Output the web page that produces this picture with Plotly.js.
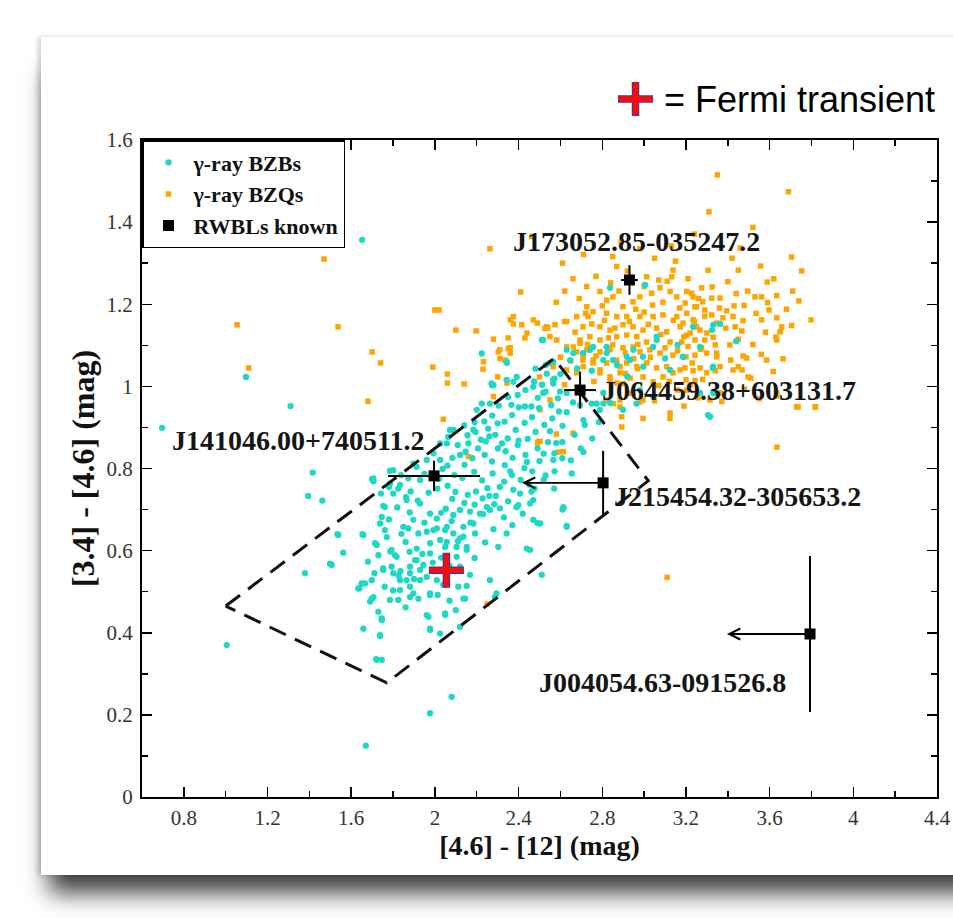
<!DOCTYPE html>
<html>
<head>
<meta charset="utf-8">
<script src="https://cdn.plot.ly/plotly-3.0.1.min.js"></script>
<style>
  html, body { margin:0; padding:0; background:#ffffff; width:953px; height:918px; overflow:hidden; }
  #card { position:absolute; left:41px; top:37px; width:1000px; height:838px; background:#ffffff;
          box-shadow: 0 26px 22px -8px rgba(0,0,0,0.75), -3px 0 5px rgba(0,0,0,0.18); }
  #chart { position:absolute; left:0; top:0; width:953px; height:918px; }
</style>
</head>
<body>
<div id="card"></div>
<div id="chart"></div>
<script>
// ---------------- data ----------------
// gamma-ray BZBs (cyan)
const bzbX = [1.652,1.097,0.696,1.31,1.005,1.67,1.977,2.08,1.416,1.394,1.462,3.305,3.33,
 1.70,1.785,2.273,2.517,2.345,2.61,2.63,2.71,2.49,2.39,
 3.363,3.325,3.44,3.185,3.328,3.315,
 2.837,3.004,2.565,2.646,2.708,2.756,2.821,2.851,2.933,3.043,3.06,2.995,3.234,3.267,3.33,2.343,2.391,2.47,2.55,2.517,2.565,2.63,2.805,2.837,2.789,2.899,3.267,3.33,
 1.379,1.499,1.534,1.562,1.654,1.658,1.706,1.714,1.746,1.738,1.746,1.698,1.639,1.666,1.711,1.753,1.793,1.817,1.719,1.785,1.825,1.833,1.881,1.897,1.921,1.849,1.897,1.929,1.865,1.801,1.833,1.873,1.801,1.913,1.761,1.746,1.929,1.977,2.009,1.993,2.025,2.049,1.977,1.913,1.929,1.961,2.009,1.881,1.833,1.977,2.013,2.049,1.969,1.977,2.025,2.12,2.112,2.144,2.168,2.12,2.104,2.152,2.136,2.088,2.057,2.136,2.192,2.184,2.088,2.12,2.168,2.216,2.263,2.295,2.343,2.303,2.248,2.311,2.391,2.455,2.47,2.503,2.511,2.614,2.63,2.47,2.462,2.407,2.375,
 2.012,2.061,2.098,2.157,2.196,2.251,2.291,2.083,2.141,2.228,2.284,2.052,2.037,2.093,2.131,2.188,2.226,2.276,2.331,2.369,2.084,2.142,2.179,2.238,2.273,2.334,2.371,2.428,2.465,2.109,2.147,2.206,2.243,2.301,2.338,2.396,2.433,2.491,2.156,2.194,2.255,2.289,2.348,2.386,2.444,2.481,2.541,2.236,2.274,2.333,2.369,2.429,2.464,2.523,2.561,2.305,2.366,2.401,2.461,2.498,2.556,2.593,2.396,2.433,2.492,2.529,2.588,2.474,2.512,2.571,2.481,2.694,2.716,2.697,2.571,2.609,2.668,2.783,2.752,2.476,2.529,2.572,2.609,2.28,2.375,2.263,2.20,2.224,2.088,2.064,2.025,1.993,2.025,1.961,1.897,1.838,1.781,1.742,
 1.706,1.785,1.825,1.884,1.918,1.862,1.753,1.738,1.761,1.658,1.538,1.507,1.722,1.787,1.809,1.879,1.913,1.873,1.921,1.961,2.009,2.049,1.977,2.057,2.12,2.104,2.152,1.753,1.793,1.835,1.881,1.905,1.945,1.929,1.865,1.827,1.801,1.698,1.65,1.634,1.706,1.69,1.881,1.977,2.152,2.136,2.439,1.961,2.049,1.73,1.746,1.738,1.977,1.722,2.287,
 2.224,2.343,2.271,2.072,2.057,2.184,2.773,2.71,2.654,2.566,2.399,2.455,2.614,2.263,
 2.511,2.63,2.662,2.741,2.805,2.821,2.917,2.949,2.996,3.06,3.188,3.124,2.535,2.566,2.598,2.749,2.805,2.964,2.98,3.044,
 1.94,1.99,2.03,2.07,1.86,1.84,1.95,2.03,2.08,2.11,2.17,2.19,2.23,2.26,2.31,2.35,2.36,2.41,2.44,2.50,2.52,2.55,2.58,2.61,2.63,2.66,2.40,2.32,2.26,2.22,2.16,2.12,2.06,2.02,1.97,1.95,1.88,1.82,1.78,1.77,1.73,1.68,1.76,1.80,1.86,1.90,2.04,2.07,2.10,2.19,2.24,2.28,2.33,2.37,2.42,2.45,2.52,2.57,2.65,2.43,2.35,2.30,2.19,2.14,2.53,2.60,2.68,2.75,2.87,2.92,3.10,3.16];
const bzbY = [1.357,1.023,0.899,0.952,0.37,0.125,0.204,0.244,0.79,0.733,0.722,0.93,1.15,
 0.774,0.794,1.003,1.113,1.057,0.70,0.66,0.84,0.667,0.706,
 1.152,1.137,1.11,1.072,1.045,0.926,
 1.24,1.247,1.06,1.064,1.081,1.096,1.081,1.064,1.064,1.096,1.121,1.072,1.145,1.096,1.048,1.016,1.023,0.999,1.057,0.984,1.016,0.984,0.984,0.96,0.943,0.943,0.984,0.984,
 0.545,0.568,0.64,0.595,0.64,0.41,0.776,0.618,0.334,0.392,0.435,0.483,0.508,0.52,0.545,0.553,0.602,0.585,0.336,0.48,0.48,0.528,0.545,0.496,0.483,0.658,0.675,0.715,0.723,0.739,0.76,0.776,0.796,0.804,0.706,0.682,0.772,0.69,0.678,0.65,0.626,0.609,0.593,0.577,0.553,0.536,0.528,0.512,0.504,0.496,0.492,0.447,0.439,0.41,0.398,0.414,0.512,0.483,0.541,0.561,0.585,0.609,0.634,0.642,0.658,0.658,0.642,0.666,0.687,0.699,0.695,0.69,0.528,0.496,0.642,0.609,0.706,0.703,0.706,0.602,0.675,0.666,0.541,0.706,0.658,0.723,0.744,0.739,0.748,
 0.751,0.758,0.743,0.736,0.744,0.752,0.733,0.726,0.716,0.727,0.713,0.702,0.799,0.784,0.777,0.792,0.771,0.788,0.768,0.784,0.826,0.809,0.825,0.833,0.817,0.808,0.826,0.801,0.793,0.857,0.841,0.849,0.866,0.849,0.842,0.857,0.833,0.849,0.881,0.889,0.897,0.882,0.873,0.894,0.872,0.889,0.864,0.915,0.929,0.914,0.93,0.911,0.925,0.906,0.922,0.953,0.955,0.949,0.951,0.947,0.954,0.939,0.979,0.991,0.972,0.987,0.971,1.012,1.004,1.019,1.043,0.954,0.906,0.849,0.837,0.864,0.882,0.913,0.873,0.751,0.783,0.793,0.825,1.003,1.011,0.958,0.943,0.958,0.894,0.877,0.861,0.837,0.821,0.821,0.812,0.784,0.755,0.739,
 0.769,0.763,0.751,0.744,0.722,0.73,0.709,0.666,0.65,0.638,0.638,0.565,0.614,0.598,0.589,0.597,0.605,0.654,0.642,0.646,0.654,0.65,0.618,0.621,0.63,0.609,0.602,0.557,0.561,0.55,0.561,0.577,0.565,0.528,0.528,0.539,0.545,0.528,0.52,0.508,0.487,0.476,0.487,0.492,0.514,0.483,0.605,0.443,0.443,0.451,0.431,0.394,0.407,0.334,0.487,
 1.08,1.06,1.007,0.894,0.861,0.894,0.958,0.918,0.788,0.821,0.711,0.715,0.703,0.699,
 1.113,1.089,1.081,1.089,1.064,1.096,1.072,1.089,1.048,1.113,1.072,1.04,1.031,1.007,0.987,0.958,0.958,0.958,0.991,0.975,
 0.592,0.571,0.583,0.563,0.621,0.641,0.668,0.692,0.672,0.623,0.668,0.712,0.689,0.733,0.755,0.72,0.793,0.772,0.816,0.818,0.836,0.891,0.862,0.904,0.937,0.961,0.868,0.861,0.878,0.87,0.861,0.833,0.807,0.775,0.741,0.787,0.693,0.705,0.676,0.633,0.589,0.573,0.512,0.503,0.462,0.531,0.517,0.478,0.455,0.582,0.62,0.652,0.681,0.662,0.69,0.761,0.772,0.751,0.82,0.951,0.974,0.91,0.913,0.905,1.052,1.03,1.044,1.038,1.052,1.024,1.068,1.101];

// gamma-ray BZQs (orange)
const bzqX = [1.47,1.054,1.537,1.11,1.70,1.74,2.0,2.02,1.68,1.99,2.06,2.06,2.14,2.10,2.197,2.263,2.41,2.61,2.28,2.35,2.36,2.375,2.43,2.31,2.36,2.30,2.345,2.23,2.49,2.54,2.574,2.04,2.50,2.59,2.66,2.49,2.58,3.11,2.25,3.635,3.817,
 3.35,3.69,3.31,3.52,3.46,3.705,3.753,3.306,3.45,3.557,3.588,3.495,3.325,3.53,3.562,3.634,3.74,3.59,3.597,3.535,3.562,3.634,3.798,3.705,3.658,3.65,3.63,3.473,3.478,3.43,3.395,3.425,3.435,3.467,3.45,3.664,3.617,3.473,3.414,3.45,3.468,3.425,3.51,3.736,3.82,3.634,3.34,3.234,3.347,3.371,3.363,3.204,3.234,3.275,3.28,3.323,3.363,3.243,3.29,3.323,3.204,3.234,3.186,3.25,3.347,3.377,3.30,3.204,3.243,3.29,3.21,3.275,3.34,3.243,3.195,3.243,3.204,3.258,
 2.463,2.85,2.869,3.012,3.138,3.132,3.07,2.726,2.789,2.821,2.851,2.899,2.947,2.98,3.036,3.076,3.124,3.156,3.227,3.196,3.25,2.726,2.756,2.678,2.732,2.821,2.869,2.917,2.98,3.043,3.09,3.156,2.63,2.535,2.708,2.789,2.837,2.899,2.947,2.995,3.06,3.108,3.172,3.22,3.267,2.694,2.741,2.789,2.869,2.917,2.965,3.012,3.124,3.18,2.63,2.678,2.726,2.789,2.837,2.899,2.947,2.98,3.028,3.076,3.138,3.20,3.30,3.347,2.708,2.756,2.821,2.869,2.917,2.965,3.012,3.06,3.108,3.172,3.267,2.565,2.63,2.678,2.789,2.837,2.885,2.933,2.995,3.043,3.09,3.138,3.20,3.30,3.363,3.49,3.585,3.634,3.497,3.634,3.729,2.947,2.885,2.995,3.124,3.315,2.335,2.36,2.375,2.415,2.47,2.44,
 2.503,2.55,2.28,2.16,2.495,2.614,2.311,2.232,2.351,2.303,2.853,2.893,2.893,
 2.526,2.55,2.662,2.709,2.709,2.757,2.789,2.885,2.837,2.90,2.933,2.821,2.885,2.694,2.582,
 2.503,2.995,2.98,3.124,
 2.58,2.62,2.66,2.69,2.77,2.80,2.84,2.88,2.92,2.96,3.00,3.04,3.09,3.11,3.17,3.21,3.26,3.15,3.05,2.98,2.71,2.62,2.67,2.75,2.81,2.86,2.93,2.97,3.02,3.08,3.14,3.19,3.24,3.29,2.60,2.65,2.73,2.77,2.85,2.91,2.95,3.03,3.10,3.16,3.23,3.27,2.87,2.91,3.07,3.12,3.16,3.22,2.97,2.76,2.68,2.62,2.72,2.83,3.00,3.33,3.39,3.41,3.52,3.56,3.58,3.68,3.71,3.62,3.40,3.44,3.36,3.13,3.24,2.89,3.42,3.05,3.19,3.48,3.55,3.28];
const bzqY = [1.31,1.15,1.145,1.045,1.084,1.057,1.186,1.186,0.964,1.047,1.03,1.008,1.006,1.137,1.135,1.335,1.23,1.30,1.115,1.118,1.162,1.152,1.118,1.089,1.094,1.023,1.008,1.042,1.154,1.142,1.15,0.92,1.023,0.84,0.886,0.862,0.884,0.535,0.47,0.852,0.95,
 1.515,1.474,1.425,1.387,1.337,1.315,1.281,1.283,1.283,1.293,1.254,1.232,1.242,1.218,1.218,1.221,1.208,1.204,1.186,1.178,1.162,1.167,1.162,1.148,1.145,1.133,1.12,1.16,1.197,1.196,1.184,1.17,1.145,1.135,1.115,1.067,1.036,1.074,1.064,1.048,1.04,1.04,1.02,0.95,0.95,0.977,1.038,1.038,1.081,0.963,0.984,1.231,1.218,1.24,1.206,1.215,1.215,1.194,1.171,1.174,1.178,1.162,1.154,1.145,1.154,1.167,1.13,1.125,1.113,1.113,1.097,1.094,1.101,1.076,1.045,1.014,0.991,0.972,
 1.365,1.316,1.292,1.267,1.283,1.267,1.259,1.243,1.231,1.21,1.218,1.194,1.206,1.218,1.227,1.24,1.231,1.218,1.227,1.203,1.194,1.194,1.182,1.17,1.17,1.178,1.17,1.17,1.17,1.17,1.174,1.17,1.158,1.145,1.145,1.145,1.137,1.15,1.145,1.137,1.142,1.133,1.145,1.13,1.137,1.113,1.121,1.113,1.121,1.125,1.121,1.108,1.108,1.108,1.096,1.084,1.089,1.084,1.089,1.094,1.096,1.084,1.089,1.081,1.076,1.072,1.081,1.072,1.064,1.057,1.057,1.064,1.057,1.048,1.057,1.045,1.048,1.04,1.045,1.048,1.04,1.033,1.033,1.023,1.033,1.02,1.023,1.011,1.023,1.033,1.016,1.033,1.048,1.069,1.064,1.113,1.023,0.984,0.95,0.984,0.967,0.967,0.935,0.967,1.064,1.081,1.17,1.15,1.162,1.13,
 0.943,0.967,0.975,0.829,0.866,0.841,1.068,1.06,1.092,1.084,0.958,0.901,0.926,
 1.141,1.121,1.096,1.072,1.048,1.064,1.04,1.048,1.016,1.007,0.983,0.967,0.95,1.105,1.113,
 0.866,0.922,0.962,0.922,
 1.205,1.232,1.262,1.214,1.268,1.196,1.252,1.232,1.281,1.188,1.243,1.198,1.205,1.256,1.191,1.262,1.214,1.305,1.312,1.335,1.321,1.158,1.132,1.152,1.161,1.142,1.158,1.102,1.151,1.126,1.161,1.121,1.158,1.186,1.071,1.062,1.102,1.074,1.101,1.082,1.067,1.071,1.094,1.087,1.057,1.09,1.008,1.031,1.002,1.012,0.991,1.003,1.043,1.012,0.998,1.004,1.178,1.118,1.181,1.12,1.142,1.101,1.102,1.078,1.132,1.188,1.232,1.262,1.255,1.226,1.191,1.342,1.371,1.352,1.312,0.965,0.952,0.993,0.97,1.017];

// RWBLs known (black squares with error bars)
const rwblNames = ["J173052.85-035247.2","J064459.38+603131.7","J141046.00+740511.2","J215454.32-305653.2","J004054.63-091526.8"];
const rwblX    = [2.93, 2.694, 1.996, 2.804, 3.793];
const rwblY    = [1.259, 0.991, 0.782, 0.765, 0.397];
const rwblErrX = [0.04, 0.076, 0.22, 0, 0];
const rwblErrY = [0.036, 0.045, 0.037, 0.078, 0.19];
// upper limits in [4.6]-[12]: arrow tips
const limitFromX = [2.804, 3.793];
const limitToX   = [2.416, 3.396];
const limitY     = [0.765, 0.397];
// label anchor positions
const labelX = [2.966, 2.79, 1.346, 2.847, 3.09];
const labelY = [1.352, 0.991, 0.867, 0.733, 0.28];
const labelAnchor = ["center","left","center","left","center"];

// Fermi transient
const fermiX = [2.055];
const fermiY = [0.552];

// WISE blazar strip region (dashed)
const boxX = [1.0, 2.57, 3.02, 1.77, 1.0];
const boxY = [0.465, 1.068, 0.77, 0.278, 0.465];

// ---------------- chart ----------------
const SERIF = "Liberation Serif, Times New Roman, Times, serif";

const traces = [
  { type:'scatter', mode:'markers', name:'γ-ray BZQs', x:bzqX, y:bzqY, legendrank:2, legendgroup:'q',
    marker:{symbol:'square', size:5.5, color:'#ffa500'} },
  { type:'scatter', mode:'markers', name:'γ-ray BZBs', x:bzbX, y:bzbY, legendrank:1, legendgroup:'b',
    marker:{symbol:'circle', size:6.3, color:'#1ed8c6'} },
  { type:'scatter', mode:'lines', x:boxX, y:boxY, showlegend:false, hoverinfo:'skip',
    line:{color:'#111', width:3, dash:'18px,10px'} },
  { type:'scatter', mode:'markers', name:'RWBLs known', x:rwblX, y:rwblY, legendrank:3, legendgroup:'r',
    marker:{symbol:'square', size:11, color:'#000'},
    error_x:{type:'data', symmetric:false, array:rwblErrX, arrayminus:rwblErrX, color:'#000', thickness:2, width:0},
    error_y:{type:'data', array:rwblErrY, color:'#000', thickness:2, width:0} },
  { type:'scatter', mode:'markers', x:fermiX, y:fermiY, showlegend:false, hoverinfo:'skip',
    marker:{symbol:'cross-thin', size:25, line:{color:'#2b3f9a', width:7.5}} },
  { type:'scatter', mode:'markers', x:fermiX, y:fermiY, showlegend:false, hoverinfo:'skip',
    marker:{symbol:'cross-thin', size:24, line:{color:'#ff0a0a', width:5.5}} }
];

const annotations = [];
for (let i = 0; i < rwblNames.length; i++) {
  annotations.push({ x:labelX[i], y:labelY[i], xref:'x', yref:'y', text:rwblNames[i], showarrow:false,
    xanchor:labelAnchor[i], yanchor:'middle',
    font:{family:SERIF, size:28, weight:'bold', color:'#151515'} });
}
for (let i = 0; i < limitToX.length; i++) {
  annotations.push({ x:limitToX[i], y:limitY[i], ax:limitFromX[i], ay:limitY[i], xref:'x', yref:'y',
    axref:'x', ayref:'y', text:'', showarrow:true, arrowhead:5, arrowsize:1.2, arrowwidth:1.8, arrowcolor:'#000' });
}
annotations.push({ x:0.654, y:1.062, xref:'paper', yref:'paper', text:'= Fermi transient', showarrow:false,
  xanchor:'left', yanchor:'middle', font:{family:'Liberation Sans, Arial, sans-serif', size:36, color:'#000'} });

// key symbol for the Fermi transient
function px2paperX(p){ return (p-142)/795; }
function px2paperY(p){ return (797-p)/657; }
const shapes = [
  {type:'line', xref:'paper', yref:'paper', x0:px2paperX(618), x1:px2paperX(653), y0:px2paperY(99), y1:px2paperY(99), line:{color:'#2b3f9a', width:7.5}},
  {type:'line', xref:'paper', yref:'paper', x0:px2paperX(635.5), x1:px2paperX(635.5), y0:px2paperY(82), y1:px2paperY(116), line:{color:'#2b3f9a', width:7.5}},
  {type:'line', xref:'paper', yref:'paper', x0:px2paperX(618.5), x1:px2paperX(652.5), y0:px2paperY(99), y1:px2paperY(99), line:{color:'#ff0a0a', width:5.5}},
  {type:'line', xref:'paper', yref:'paper', x0:px2paperX(635.5), x1:px2paperX(635.5), y0:px2paperY(82.5), y1:px2paperY(115.5), line:{color:'#ff0a0a', width:5.5}}
];

const axisCommon = {
  showline:true, linecolor:'#000', linewidth:2, mirror:'allticks',
  ticks:'inside', ticklen:10, tickwidth:1.5, tickcolor:'#000',
  showgrid:false, zeroline:false,
  tickfont:{family:SERIF, size:21, color:'#333'}
};

const layout = {
  width:953, height:918,
  margin:{l:142, r:16, t:140, b:121},
  paper_bgcolor:'rgba(0,0,0,0)', plot_bgcolor:'#ffffff',
  showlegend:true,
  legend:{x:0, y:1, xanchor:'left', yanchor:'top', bgcolor:'#ffffff', bordercolor:'#000', borderwidth:1.5,
    font:{family:SERIF, size:22, weight:'bold', color:'#111'}, tracegroupgap:0, itemwidth:40},
  xaxis:Object.assign({}, axisCommon, {
    range:[0.6, 4.4], tick0:0.8, dtick:0.4, ticklabelstandoff:1,
    minor:{dtick:0.2, ticks:'inside', ticklen:6, tickwidth:1.5, tickcolor:'#000', showgrid:false},
    title:{text:'[4.6] - [12] (mag)', font:{family:SERIF, size:28, weight:'bold', color:'#111'}, standoff:6}
  }),
  yaxis:Object.assign({}, axisCommon, {
    range:[0, 1.6], tick0:0, dtick:0.2, ticklabelstandoff:3,
    minor:{dtick:0.1, ticks:'inside', ticklen:6, tickwidth:1.5, tickcolor:'#000', showgrid:false},
    title:{text:'[3.4] - [4.6] (mag)', font:{family:SERIF, size:32, weight:'bold', color:'#111'}, standoff:2}
  }),
  annotations:annotations,
  shapes:shapes
};

Plotly.newPlot('chart', traces, layout, {displayModeBar:false, staticPlot:true});
</script>
</body>
</html>
